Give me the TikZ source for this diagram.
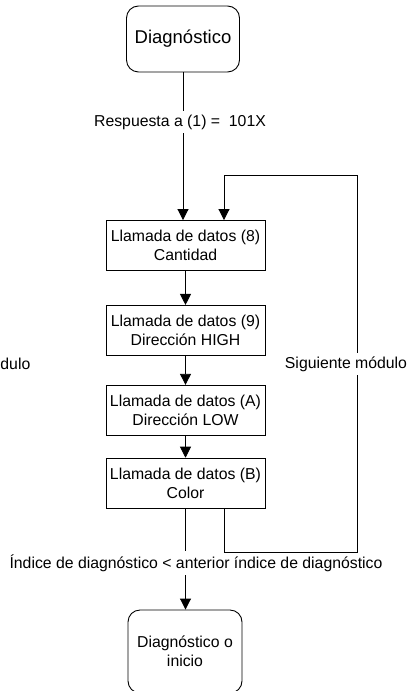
\documentclass[tikz,border=0pt]{standalone}
\usepackage{fontspec}
\setmainfont{Liberation Sans}
\usepackage{tikz}
\usetikzlibrary{arrows.meta,positioning}

\newcommand\flowfont{\fontsize{15.8bp}{19bp}\selectfont}

\begin{document}
\begin{tikzpicture}[x=1bp,y=-1bp]
    \tikzstyle{every path}=[line width=0.9pt]
    \edef\flowboxwidth{159bp}
    \tikzstyle{flowbox}=[draw,minimum width=\flowboxwidth,minimum height=50bp,align=center,font=\flowfont]
    \tikzstyle{flowend}=[draw,rounded corners=12bp,align=center]
    \tikzstyle{flowlabel}=[fill=white,font=\flowfont]
    \tikzstyle{flowarrow}=[-{Triangle[length=11bp,width=11bp]}]

    \useasboundingbox (0,0) rectangle (409,691);

    % main column
    \node[flowend,minimum width=113bp,minimum height=66bp,
          font=\fontsize{18.5bp}{22bp}\selectfont] (diag) at (183,39) {Diagnóstico};
    \node[flowlabel] (resp) at (180,122) {Respuesta a (1) = \ 101X};
    \node[flowbox]                      (datos8) at (185.5,245.5) {Llamada de datos (8)\\Cantidad};
    \node[flowbox,below=34bp of datos8] (datos9) {Llamada de datos (9)\\Dirección HIGH};
    \node[flowbox,below=29bp of datos9] (datosA) {Llamada de datos (A)\\Dirección LOW};
    \node[flowbox,below=22bp of datosA] (datosB) {Llamada de datos (B)\\Color};
    \node[flowlabel] (indice) at (196,563) {Índice de diagnóstico < anterior índice de diagnóstico};
    \node[flowend,minimum width=114bp,minimum height=83bp,font=\flowfont] (fin) at (185,651.5) {Diagnóstico o\\inicio};

    \draw (diag) -- (resp.north -| diag);
    \draw[flowarrow] (resp.south -| diag) -- (datos8.north -| diag);
    \draw[flowarrow] (datos8) -- (datos9);
    \draw[flowarrow] (datos9) -- (datosA);
    \draw[flowarrow] (datosA) -- (datosB);
    \draw (datosB) -- (indice.north -| datosB);
    \draw[flowarrow] (indice.south -| datosB) -- (fin.north -| datosB);

    % loop back to the first call
    \node[flowlabel] (sig) at (346,364) {Siguiente módulo};
    \node[flowlabel,anchor=west,inner sep=0pt] (dulo) at (0,364) {dulo};
    \coordinate (loopL) at (224,175);
    \coordinate (loopR) at (357,175);
    \coordinate (loopB) at (357,552);
    \draw (datosB.south -| loopL) |- (loopB) -- (sig.south -| loopB);
    \draw[flowarrow] (sig.north -| loopR) -- (loopR) -- (loopL) -- (datos8.north -| loopL);
\end{tikzpicture}
\end{document}
